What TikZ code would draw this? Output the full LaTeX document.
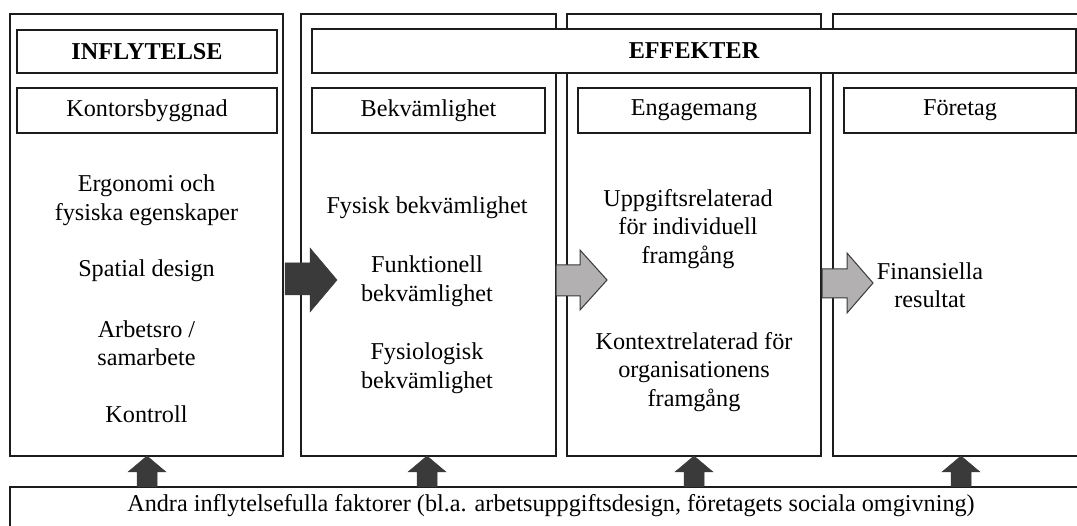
\documentclass[tikz,border=0pt]{standalone}
\usepackage{fontspec}
\setmainfont{Liberation Serif}
\definecolor{linec}{HTML}{1C1C1C}
\definecolor{darkarrow}{HTML}{3A3A3A}
\definecolor{grayarrow}{HTML}{B2B0B0}
\begin{document}
\begin{tikzpicture}[x=1pt,y=-1pt,
  box/.style={draw=linec, line width=1.6pt, rectangle, inner sep=0pt, outer sep=0pt, fill=white},
  txt/.style={font=\fontsize{24.2}{28.5}\selectfont, align=center, inner sep=0pt, text=black},
  hdrtxt/.style={txt, font=\bfseries\fontsize{24.2}{28.5}\selectfont},
  darkblock/.style={fill=darkarrow, draw=darkarrow, line width=0.5pt},
  grayblock/.style={fill=grayarrow, draw=darkarrow, line width=1pt}]
\useasboundingbox (0,0) rectangle (1077,526);
\clip (0,0) rectangle (1077,526);
% columns
\node[box, minimum width=273pt, minimum height=442pt] (c1) at (146.5,235) {};
\node[box, minimum width=255pt, minimum height=442pt] (c2) at (428.5,235) {};
\node[box, minimum width=254pt, minimum height=442pt] (c3) at (694,235) {};
\node[box, minimum width=256pt, minimum height=442pt] (c4) at (961,235) {};
% headers
\node[box, minimum width=260pt, minimum height=43pt] (h1) at (147,51.5) {};
\node[hdrtxt] at (h1) {INFLYTELSE};
\node[box, minimum width=764pt, minimum height=44pt] (h2) at (694,51) {};
\node[hdrtxt] at (h2) {EFFEKTER};
% sub boxes
\node[box, minimum width=260pt, minimum height=45pt] (s1) at (147,110.5) {};
\node[txt] at (s1) {Kontorsbyggnad};
\node[box, minimum width=233pt, minimum height=45pt] (s2) at (428.5,110.5) {};
\node[txt] at (s2) {Bekvämlighet};
\node[box, minimum width=232pt, minimum height=45pt] (s3) at (694,110.5) {};
\node[txt] at (s3) {Engagemang};
\node[box, minimum width=232pt, minimum height=45pt] (s4) at (960,110.5) {};
\node[txt] at (s4) {Företag};
% column texts
\node[txt] (t11) at (146.5,200) {Ergonomi och\\fysiska egenskaper};
\node[txt] (t12) at (146.5,271) {Spatial design};
\node[txt] (t13) at (146.5,343) {Arbetsro /\\samarbete};
\node[txt] (t14) at (146.5,414) {Kontroll};
\node[txt] (t21) at (427,208) {Fysisk bekvämlighet};
\node[txt] (t22) at (427,281) {Funktionell\\bekvämlighet};
\node[txt] (t23) at (427,368) {Fysiologisk\\bekvämlighet};
\node[txt] (t31) at (688,229) {Uppgiftsrelaterad\\för individuell\\framgång};
\node[txt] (t32) at (694,372) {Kontextrelaterad för\\organisationens\\framgång};
\node[txt] (t41) at (930,285) {Finansiella\\resultat};
% right block arrows
\path[darkblock] (285,263) -- (310,263) -- (310,248) -- (337,280) -- (310,312) -- (310,295) -- (285,295) -- cycle;
\path[grayblock] (556,265) -- (580,265) -- (580,250) -- (607,280) -- (580,310) -- (580,296) -- (556,296) -- cycle;
\path[grayblock] (822,269) -- (847,269) -- (847,253) -- (873,283) -- (847,313) -- (847,298) -- (822,298) -- cycle;
% bottom box
\node[box, minimum width=1090pt, minimum height=80pt] (bot) at (555,527) {};
\node[txt] (bt) at (551,506) {Andra inflytelsefulla faktorer (bl.a. arbetsuppgiftsdesign, företagets sociala omgivning)};
% up block arrows
\foreach \xx in {147,427,694,961}{
  \path[darkblock] (\xx-10,487) -- (\xx-10,472) -- (\xx-19,472) -- (\xx,456) -- (\xx+19,472) -- (\xx+10,472) -- (\xx+10,487) -- cycle;
}
\end{tikzpicture}
\end{document}
